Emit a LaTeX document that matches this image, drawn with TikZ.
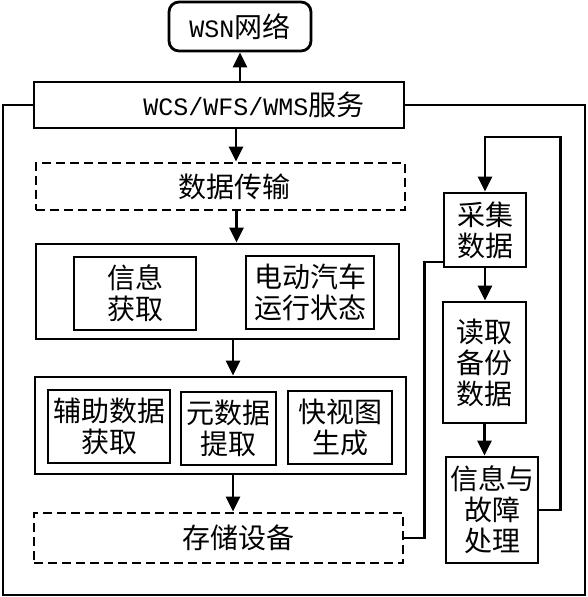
\documentclass[tikz,border=0pt]{standalone}
\usepackage{fontspec}
\setmainfont{Noto Sans CJK SC}
\setmonofont{Liberation Mono}
\usetikzlibrary{positioning, arrows.meta}
\newcommand{\enw}[1]{{\fontsize{25pt}{31pt}\selectfont\ttfamily #1}}

\begin{document}
\begin{tikzpicture}[x=1pt, y=-1pt, line width=2.8pt,
	blk/.style={draw, rectangle, align=center, inner sep=0pt, font=\fontsize{28pt}{31pt}\selectfont},
	dashblk/.style={blk, dash pattern=on 9pt off 5pt},
	arr/.style={-{Triangle[width=14pt, length=15pt]}}]
	\useasboundingbox (0,0) rectangle (587,597);
	%services
	\node[blk, rounded corners=10pt, minimum width=142pt, minimum height=49pt] (wsn) at (240,26.5) {\enw{WSN}网络};
	\node[blk, minimum width=370pt, minimum height=46pt] (wcs) at (219,105) {\hspace*{70pt}\enw{WCS/WFS/WMS}服务};
	\node[dashblk, minimum width=369pt, minimum height=47pt] (trans) at (220.5,186.5) {\hspace*{27pt}数据传输};
	%processing
	\node[blk, minimum width=363pt, minimum height=95pt] (info) at (217.5,291.5) {};
	\node[blk, minimum width=122pt, minimum height=73pt] (getinfo) at (135,293.5) {信息\\获取};
	\node[blk, minimum width=128pt, minimum height=73pt] (evstate) at (310,292.5) {电动汽车\\运行状态};
	\node[blk, minimum width=371pt, minimum height=97pt] (proc) at (220.5,425.5) {};
	\node[blk, minimum width=122pt, minimum height=73pt] (aux) at (109,426.5) {辅助数据\\获取};
	\node[blk, minimum width=95pt, minimum height=73pt] (meta) at (228.5,428.5) {元数据\\提取};
	\node[blk, minimum width=104pt, minimum height=73pt] (quick) at (340,427.5) {快视图\\生成};
	\node[dashblk, minimum width=369pt, minimum height=50pt] (store) at (218.5,538) {\hspace*{39pt}存储设备};
	%backup loop
	\node[blk, minimum width=82pt, minimum height=74pt] (collect) at (485,230) {采集\\数据};
	\node[blk, minimum width=83pt, minimum height=121pt] (backup) at (484.5,362.5) {读取\\备份\\数据};
	\node[blk, minimum width=92pt, minimum height=106pt] (fault) at (492,510) {信息与\\故障\\处理};
	%arrows
	\coordinate (a1) at ([xshift=17pt]wcs.south);
	\coordinate (a2) at ([xshift=16pt]trans.south);
	\coordinate (a3) at ([xshift=15.5pt]info.south);
	\coordinate (a4) at ([xshift=12.5pt]proc.south);
	\draw[arr] (wcs.north -| wsn.south) -- (wsn.south);
	\draw[arr] (a1) -- (a1 |- trans.north);
	\draw[arr] (a2) -- (a2 |- info.north);
	\draw[arr] (a3) -- (a3 |- proc.north);
	\draw[arr] (a4) -- (a4 |- store.north);
	\draw[arr] (collect.south) -- (collect.south |- backup.north);
	\draw[arr] (backup.south) -- (backup.south |- fault.north);
	%lines
	\coordinate (fl) at (3,595);
	\coordinate (fr) at (585,595);
	\coordinate (loop) at (560.5,137);
	\draw (wcs.west) -| (fl) -- (fr) |- (wcs.east);
	\draw (store.east) -- ++(20,0) |- ([yshift=-32pt]collect.west);
	\draw[arr] (fault.east) -| (loop) -| (collect.north);
\end{tikzpicture}
\end{document}
